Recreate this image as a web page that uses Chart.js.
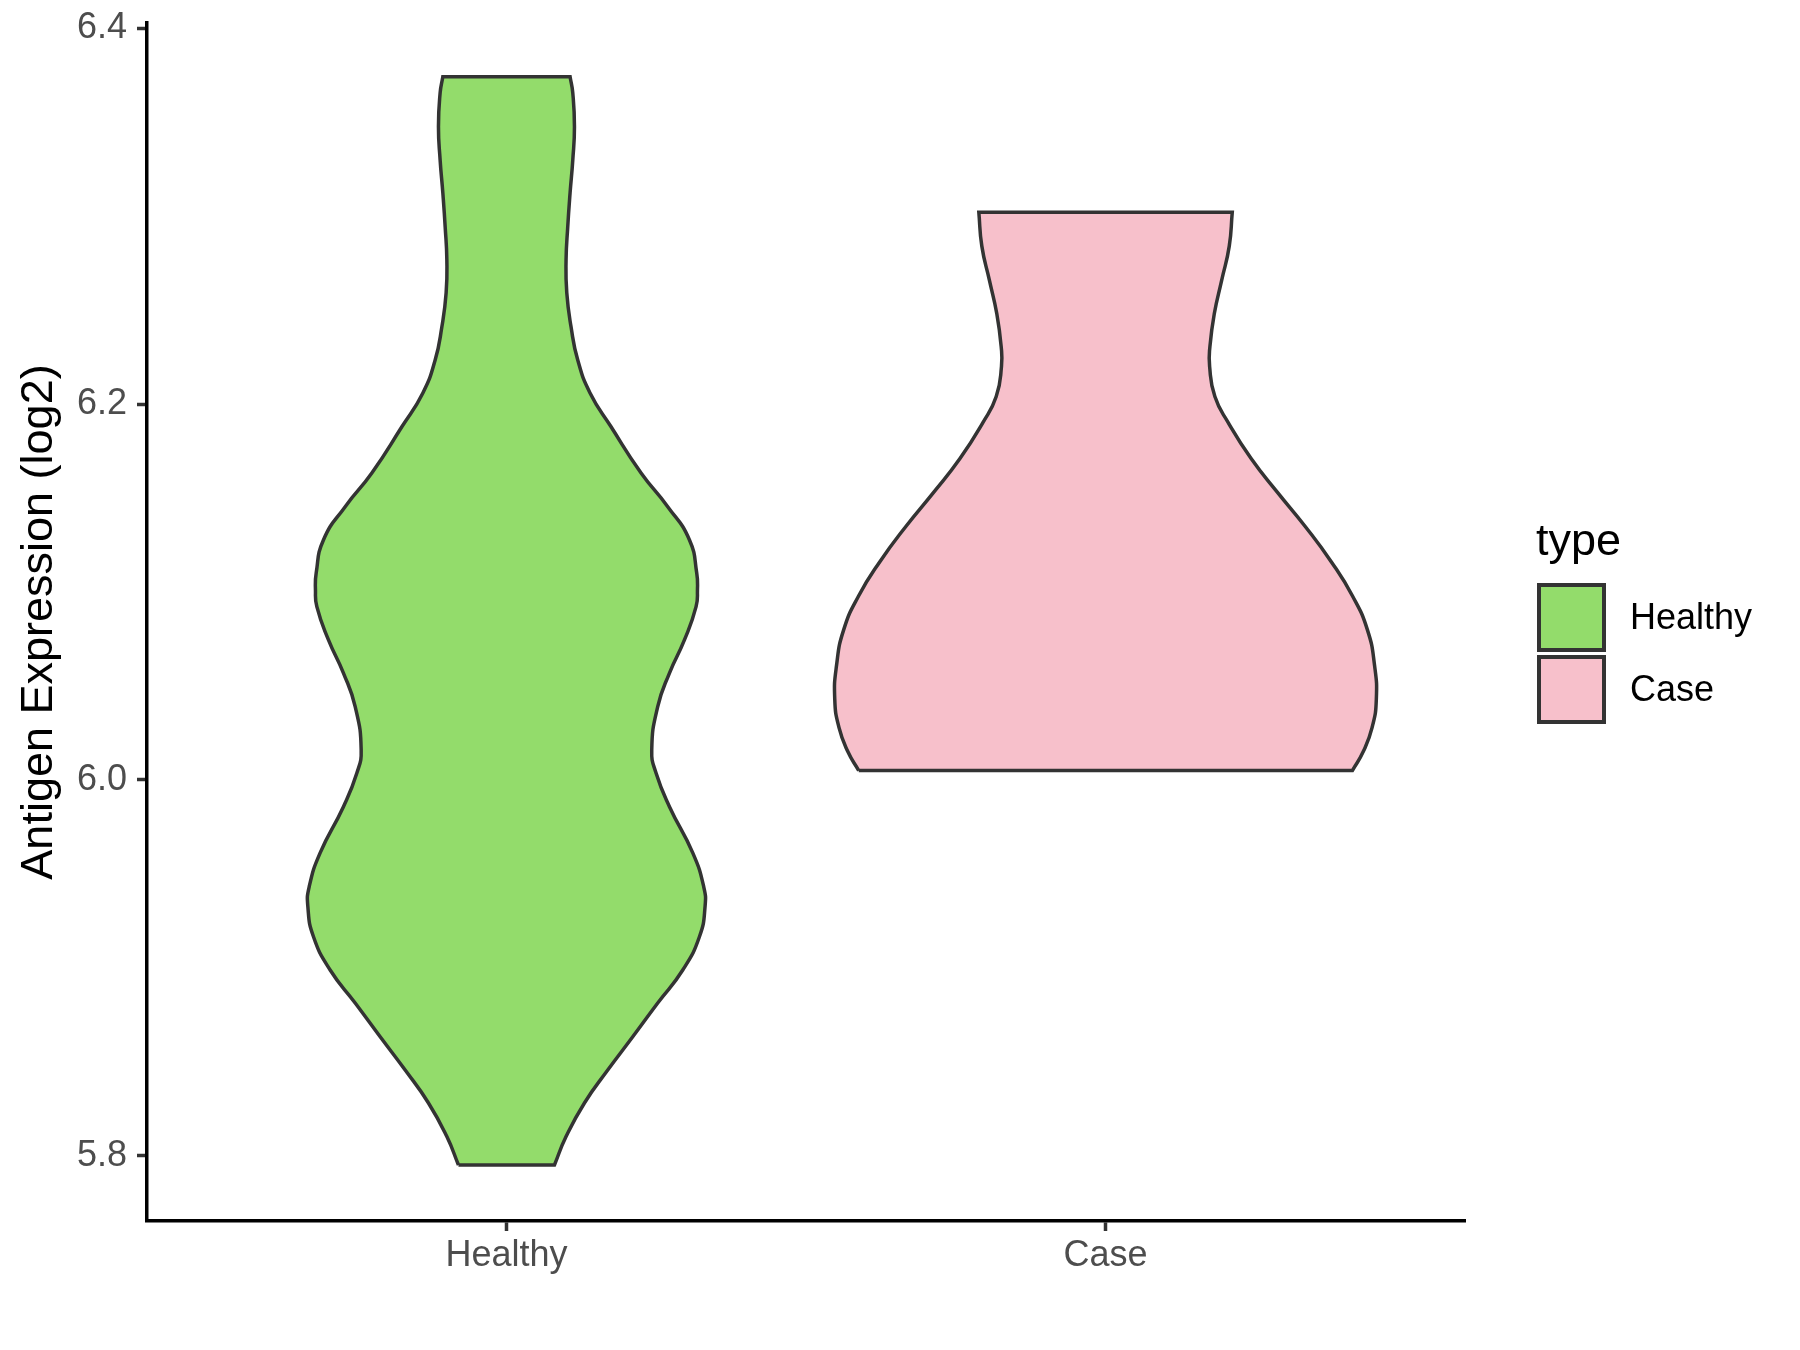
<!DOCTYPE html>
<html>
<head>
<meta charset="utf-8">
<title>Antigen Expression violin</title>
<script src="https://cdn.jsdelivr.net/npm/chart.js@4.4.1/dist/chart.umd.min.js"></script>
<style>
  html, body { margin: 0; padding: 0; background: #fff; }
  #wrap { width: 1800px; height: 1350px; }
</style>
</head>
<body>
<div id="wrap"><canvas id="violin" width="1800" height="1350"></canvas></div>
<script>
// categories on the x axis (positions 1 and 2)
const categories = ["Healthy", "Case"]
const fillColors = ["#93DC6B", "#F7C0CB"]

// violin outlines: level (log2) and half width (x units)
const healthyLevels = [5.7952, 5.8103, 5.8282, 5.8457, 5.8634, 5.8814, 5.8989, 5.9166, 5.9326, 5.9432,
  5.9612, 5.9858, 6.0037, 6.0160, 6.0390, 6.0569, 6.0745, 6.0922, 6.1011, 6.1101, 6.1277, 6.1454,
  6.1633, 6.1879, 6.2059, 6.2234, 6.2411, 6.2591, 6.2766, 6.2943, 6.3123, 6.3298, 6.3475, 6.3655, 6.3741]
const healthyHalfWidth = [0.0801, 0.0995, 0.1302, 0.1691, 0.2108, 0.2525, 0.2943, 0.3221, 0.3315, 0.3293,
  0.3110, 0.2721, 0.2497, 0.2425, 0.2525, 0.2721, 0.2971, 0.3165, 0.3188, 0.3176, 0.3055, 0.2692,
  0.2247, 0.1746, 0.1395, 0.1190, 0.1078, 0.1007, 0.0995, 0.1023, 0.1062, 0.1107, 0.1135, 0.1107, 0.1062]

const caseLevels = [6.005, 6.015, 6.028, 6.043, 6.061, 6.080, 6.098, 6.116, 6.135, 6.153, 6.171,
  6.190, 6.204, 6.220, 6.2305, 6.248, 6.266, 6.284, 6.302]
const caseHalfWidth = [0.412, 0.430, 0.445, 0.452, 0.449, 0.437, 0.412, 0.377, 0.333, 0.287, 0.243,
  0.205, 0.1825, 0.1737, 0.1742, 0.1815, 0.194, 0.2065, 0.2115]

const yTickValues = [5.8, 6.0, 6.2, 6.4]

const FONT = "'Liberation Sans', Arial, sans-serif"

// closed outline: up the left side, down the right side, back to start.
// corner points are repeated so the spline keeps them sharp
function violinOutline(center, levels, halfWidths) {
  let left = levels.map((y, i) => ({ x: center - halfWidths[i], y: y }))
  let right = levels.map((y, i) => ({ x: center + halfWidths[i], y: y })).reverse()
  let last = left.length - 1
  return [left[0], ...left, left[last], right[0], ...right, right[last], left[0]]
}

const legendPlugin = {
  id: "typeLegend",
  afterDraw(chart) {
    let ctx = chart.ctx
    let x0 = chart.chartArea.right + 74
    ctx.save()
    ctx.fillStyle = "#000"
    ctx.font = `45px ${FONT}`
    ctx.textBaseline = "alphabetic"
    ctx.fillText("type", x0 - 3, 555)
    chart.data.datasets.forEach((ds, i) => {
      let y = 585 + i * 72
      ctx.fillStyle = ds.backgroundColor
      ctx.fillRect(x0, y, 65, 65)
      ctx.strokeStyle = "#333333"
      ctx.lineWidth = 4
      ctx.strokeRect(x0, y, 65, 65)
      ctx.fillStyle = "#000"
      ctx.font = `36px ${FONT}`
      ctx.textBaseline = "middle"
      ctx.fillText(ds.label, x0 + 91, y + 34)
    })
    ctx.restore()
  }
}

function createViolinChart() {
  let ctx = document.getElementById("violin")
  let chart = new Chart(ctx, {
    type: "scatter",
    data: {
      datasets: [
        {
          label: categories[0],
          data: violinOutline(1, healthyLevels, healthyHalfWidth),
          backgroundColor: fillColors[0],
          borderColor: "#333333",
          borderWidth: 3.5,
          showLine: true,
          fill: "shape",
          tension: 0.5,
          pointRadius: 0
        },
        {
          label: categories[1],
          data: violinOutline(2, caseLevels, caseHalfWidth),
          backgroundColor: fillColors[1],
          borderColor: "#333333",
          borderWidth: 3.5,
          showLine: true,
          fill: "shape",
          tension: 0.5,
          pointRadius: 0
        }
      ]
    },
    options: {
      responsive: false,
      animation: false,
      layout: {
        padding: { left: 0, top: 23, right: 335, bottom: 0 }
      },
      plugins: {
        legend: { display: false },
        tooltip: { enabled: false }
      },
      scales: {
        x: {
          type: "linear",
          min: 0.4,
          max: 2.6,
          afterBuildTicks: scale => {
            scale.ticks = categories.map((c, i) => ({ value: i + 1 }))
          },
          afterFit: scale => {
            scale.height = 129
            scale.paddingLeft = 0
            scale.paddingRight = 0
          },
          ticks: {
            callback: value => categories[value - 1],
            font: { family: FONT, size: 36 },
            color: "#4D4D4D",
            padding: 3,
            maxRotation: 0
          },
          grid: {
            drawOnChartArea: false,
            drawTicks: true,
            tickLength: 10,
            tickColor: "#333333",
            tickWidth: 3.5
          },
          border: { display: true, color: "#000", width: 3.5 }
        },
        y: {
          type: "linear",
          min: 5.7654,
          max: 6.4027,
          afterBuildTicks: scale => {
            scale.ticks = yTickValues.map(v => ({ value: v }))
          },
          afterFit: scale => {
            scale.width = 147
            scale.paddingTop = 0
            scale.paddingBottom = 0
          },
          ticks: {
            callback: value => value.toFixed(1),
            font: { family: FONT, size: 36 },
            color: "#4D4D4D",
            padding: 10
          },
          grid: {
            drawOnChartArea: false,
            drawTicks: true,
            tickLength: 10,
            tickColor: "#333333",
            tickWidth: 3.5
          },
          border: { display: true, color: "#000", width: 3.5 },
          title: {
            display: true,
            text: "Antigen Expression (log2)",
            font: { family: FONT, size: 45 },
            color: "#000",
            padding: { top: 13, bottom: 0 }
          }
        }
      }
    },
    plugins: [legendPlugin]
  })
  return chart
}

let violin_chart = createViolinChart()
</script>
</body>
</html>
